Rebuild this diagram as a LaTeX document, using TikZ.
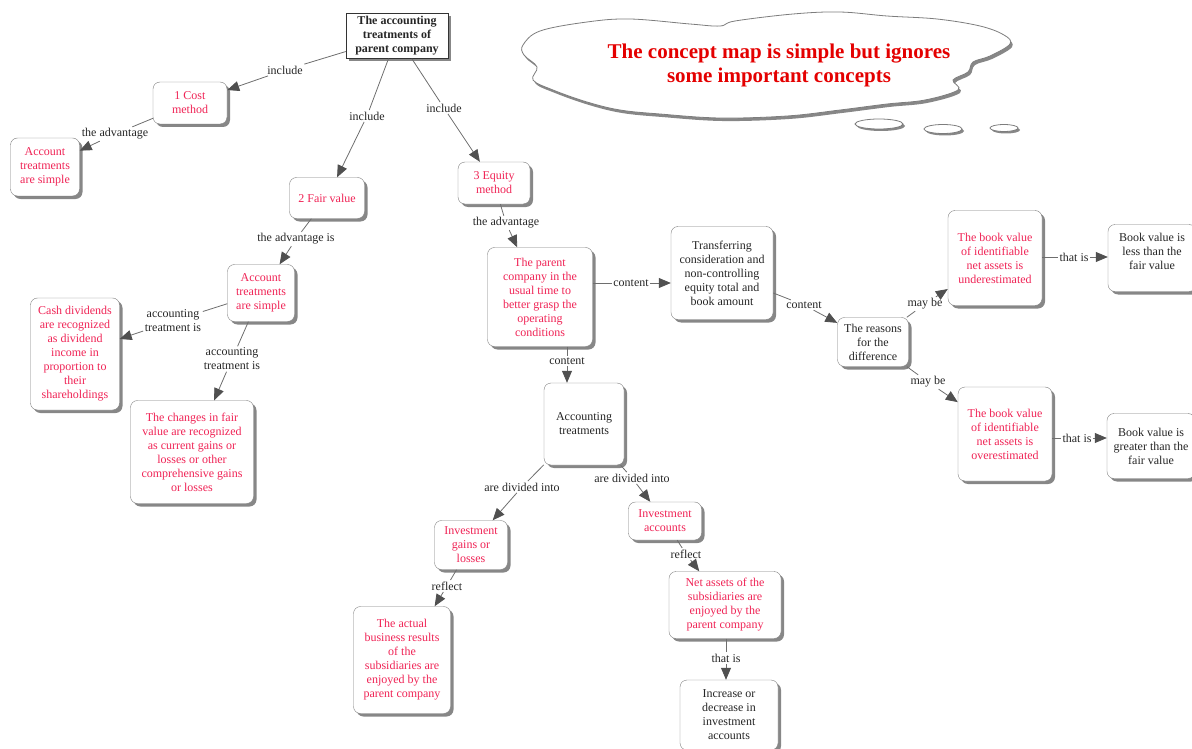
\documentclass[tikz,border=0pt]{standalone}
\usepackage{fontspec}
\setmainfont{Liberation Serif}
\usetikzlibrary{arrows.meta,shadows}

\definecolor{cmred}{RGB}{240,36,86}
\definecolor{cloudred}{RGB}{228,0,0}
\definecolor{boxgray}{RGB}{125,125,125}
\definecolor{linegray}{RGB}{110,110,110}
\definecolor{tipgray}{RGB}{80,80,80}
\definecolor{shadegray}{RGB}{135,135,135}
\newcommand{\cmtext}{\fontsize{12}{14}\selectfont}

\begin{document}
\begin{tikzpicture}[x=1pt,y=-1pt,
  concept/.style={draw=boxgray, fill=white, rounded corners=7pt, align=center, inner sep=2pt, font=\cmtext, text=black!85,
    drop shadow={shadow xshift=3pt, shadow yshift=-3pt, fill=shadegray, opacity=1}},
  redconcept/.style={concept, text=cmred},
  phrase/.style={align=center, inner sep=1.5pt, font=\cmtext, text=black!85},
  link/.style={draw=linegray, line width=0.8pt, -{Triangle[length=12pt,width=10pt,color=tipgray]}}]
\useasboundingbox (0,0) rectangle (1192,749);

\path[draw=boxgray, fill=white, line width=0.8pt, drop shadow={shadow xshift=2pt, shadow yshift=-3pt, fill=shadegray, opacity=1}]
  plot[smooth cycle, tension=0.6] coordinates {(523,45) (540,31) (587,22) (630,19) (690,24) (720,26) (735,21) (793,14) (840,12) (887,16) (937,19) (980,26) (1004,35) (1010,44) (990,56) (973,62) (968,72) (953,80) (958,90) (925,100) (887,104) (840,110) (787,116) (720,118) (660,114) (620,110) (587,102) (553,90) (533,80) (537,67) (524,55)};
\node[align=center, text=cloudred, font=\fontsize{21}{24}\selectfont\bfseries] (idea) at (779,65) {The concept map is simple but ignores\\some important concepts};
\path[draw=boxgray, fill=white, line width=0.8pt, drop shadow={shadow xshift=2pt, shadow yshift=-2pt, fill=shadegray, opacity=1}] (879,124) ellipse (24 and 5);
\path[draw=boxgray, fill=white, line width=0.8pt, drop shadow={shadow xshift=2pt, shadow yshift=-2pt, fill=shadegray, opacity=1}] (943,129) ellipse (19 and 4.5);
\path[draw=boxgray, fill=white, line width=0.8pt, drop shadow={shadow xshift=2pt, shadow yshift=-2pt, fill=shadegray, opacity=1}] (1004,128) ellipse (14 and 3.5);

\node[concept, rounded corners=0pt, draw=black!80, font=\cmtext\bfseries, minimum width=102pt, minimum height=45pt] (root) at (397,36) {The accounting\\treatments of\\parent company};
\node[redconcept, minimum width=74pt, minimum height=42pt] (cost) at (190,103) {1 Cost\\method};
\node[redconcept, minimum width=69pt, minimum height=58pt] (simpleA) at (45,167) {Account\\treatments\\are simple};
\node[redconcept, minimum width=75pt, minimum height=41pt] (fair) at (327,198) {2 Fair value};
\node[redconcept, minimum width=72pt, minimum height=42pt] (equity) at (494,183) {3 Equity\\method};
\node[redconcept, minimum width=67pt, minimum height=57pt] (simpleB) at (261,293) {Account\\treatments\\are simple};
\node[redconcept, minimum width=89pt, minimum height=112pt] (cash) at (75,354) {Cash dividends\\are recognized\\as dividend\\income in\\proportion to\\their\\shareholdings};
\node[redconcept, minimum width=123pt, minimum height=103pt] (changes) at (192,452) {The changes in fair\\value are recognized\\as current gains or\\losses or other\\comprehensive gains\\or losses};
\node[redconcept, minimum width=105pt, minimum height=99pt] (grasp) at (540,297) {The parent\\company in the\\usual time to\\better grasp the\\operating\\conditions};
\node[concept, minimum width=102pt, minimum height=93pt] (transfer) at (722,273) {Transferring\\consideration and\\non-controlling\\equity total and\\book amount};
\node[concept, minimum width=80pt, minimum height=82pt] (acct) at (584,424) {Accounting\\treatments};
\node[concept, minimum width=71pt, minimum height=49pt] (reasons) at (873,342) {The reasons\\for the\\difference};
\node[redconcept, minimum width=94pt, minimum height=95pt] (under) at (995,258) {The book value\\of identifiable\\net assets is\\underestimated};
\node[concept, minimum width=88pt, minimum height=67pt] (less) at (1152,258) {Book value is\\less than the\\fair value\\ \mbox{}};
\node[redconcept, minimum width=94pt, minimum height=94pt] (over) at (1005,434) {The book value\\of identifiable\\net assets is\\overestimated};
\node[concept, minimum width=88pt, minimum height=65pt] (greater) at (1151,446) {Book value is\\greater than the\\fair value};
\node[redconcept, minimum width=73pt, minimum height=49pt] (gains) at (471,545) {Investment\\gains or\\losses};
\node[redconcept, minimum width=73pt, minimum height=38pt] (accounts) at (665,521) {Investment\\accounts};
\node[redconcept, minimum width=97pt, minimum height=107pt] (actual) at (402,660) {The actual\\business results\\of the\\subsidiaries are\\enjoyed by the\\parent company};
\node[redconcept, minimum width=112pt, minimum height=67pt] (netassets) at (725,605) {Net assets of the\\subsidiaries are\\enjoyed by the\\parent company};
\node[concept, minimum width=98pt, minimum height=70pt] (increase) at (729,715) {Increase or\\decrease in\\investment\\accounts};

\node[phrase] (incA) at (285,70) {include};
\node[phrase] (incB) at (367,116) {include};
\node[phrase] (incC) at (444,108) {include};
\node[phrase] (advA) at (115,134) {the advantage};
\node[phrase] (advB) at (296,239) {the advantage is};
\node[phrase] (treatA) at (173,321) {accounting\\treatment is};
\node[phrase] (treatB) at (232,359) {accounting\\treatment is};
\node[phrase] (advC) at (506,223) {the advantage};
\node[phrase] (contA) at (631,283) {content};
\node[phrase] (contB) at (567,361) {content};
\node[phrase] (contC) at (804,305) {content};
\node[phrase] (mayA) at (925,304) {may be};
\node[phrase] (mayB) at (928,382) {may be};
\node[phrase] (thatA) at (1074,257) {that is};
\node[phrase] (thatB) at (1077,438) {that is};
\node[phrase] (divA) at (522,487) {are divided into};
\node[phrase] (divB) at (632,478) {are divided into};
\node[phrase] (refA) at (447,586) {reflect};
\node[phrase] (refB) at (686,554) {reflect};
\node[phrase] (thatC) at (726,658) {that is};

\path[link] (root) -- (incA) -- (cost);
\path[link] (root) -- (incB) -- (fair);
\path[link] (root) -- (incC) -- (equity);
\path[link] (cost) -- (advA) -- (simpleA);
\path[link] (fair) -- (advB) -- (simpleB);
\path[link] (simpleB) -- (treatA) -- (cash);
\path[link] (simpleB) -- (treatB) -- (changes);
\path[link] (equity) -- (advC) -- (grasp);
\path[link] (grasp.east |- contA) -- (contA) -- (contA -| transfer.west);
\path[link] (contB |- grasp.south) -- (contB) -- (contB |- acct.north);
\path[link] (transfer) -- (contC) -- (reasons);
\path[link] (reasons) -- (mayA) -- (under);
\path[link] (reasons) -- (mayB) -- (over);
\path[link] (under.east |- thatA) -- (thatA) -- (thatA -| less.west);
\path[link] (over.east |- thatB) -- (thatB) -- (thatB -| greater.west);
\path[link] (acct) -- (divA) -- (gains);
\path[link] (acct) -- (divB) -- (accounts);
\path[link] (gains) -- (refA) -- (actual);
\path[link] (accounts) -- (refB) -- (netassets);
\path[link] (thatC |- netassets.south) -- (thatC) -- (thatC |- increase.north);
\end{tikzpicture}
\end{document}
